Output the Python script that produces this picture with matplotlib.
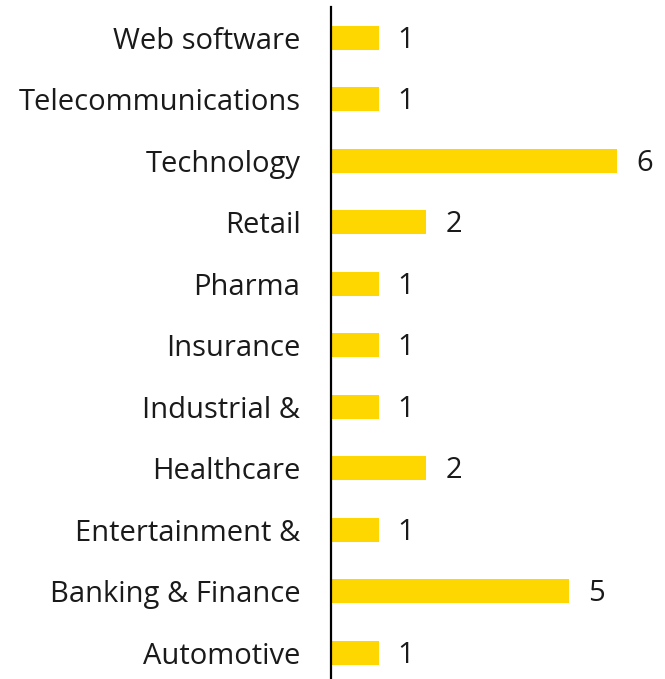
import matplotlib
matplotlib.use("Agg")
from matplotlib import pyplot as plt

# categories bottom to top
categories = ["Automotive", "Banking & Finance", "Entertainment &", "Healthcare",
              "Industrial &", "Insurance", "Pharma", "Retail", "Technology",
              "Telecommunications", "Web software"]
counts = [1, 5, 1, 2, 1, 1, 1, 2, 6, 1, 1]

plt.rcParams['font.family'] = ['Open Sans', 'DejaVu Sans']

fig = plt.figure(figsize=(6.65, 6.79), dpi=100)
ax = fig.add_axes([331 / 665, 0, 324 / 665, 672 / 679])

pos = list(range(len(categories)))
ax.barh(pos, counts, height=0.39, color="#FFD700")

for y, v in zip(pos, counts):
    ax.text(v + 0.4, y - 0.04, str(v), va="center", ha="left", fontsize=21, color="#1a1a1a")

ax.set_xlim(0, 6.8)
ax.set_ylim(-0.43, 10.5)
ax.set_yticks(pos)
ax.set_yticklabels(categories, fontsize=21, color="#1a1a1a")
ax.tick_params(axis="y", length=0, pad=22)
ax.set_xticks([])

for side in ["top", "right", "bottom"]:
    ax.spines[side].set_visible(False)
ax.spines["left"].set_linewidth(1.6)
ax.spines["left"].set_color("black")

fig.savefig("out.png", dpi=100)
